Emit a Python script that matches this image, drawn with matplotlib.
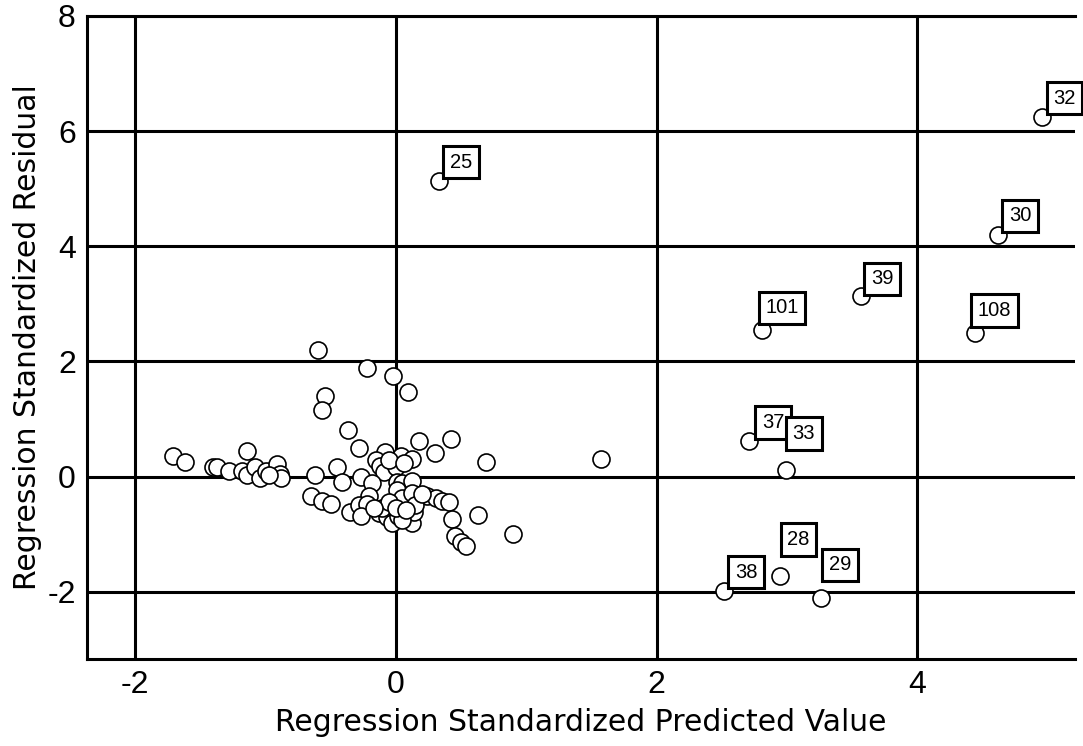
import matplotlib.pyplot as plt

plt.rcParams["axes.unicode_minus"] = False

# cluster of cases (predicted, residual)
pred = [-1.71, -1.62, -1.40, -1.37, -1.28, -1.18, -1.14, -1.14, -1.08, -1.04,
        -1.00, -0.91, -0.89, -0.88, -0.97,
        -0.60, -0.22, -0.02, 0.09, -0.54, -0.57, -0.37, -0.28, 0.18, 0.42,
        0.30, 0.69, -0.08, -0.15, 0.04, 0.12, -0.12, -0.09, 0.00, -0.45,
        -0.62, -0.41, -0.27, -0.18, 0.01, 0.05, 0.12, 0.01, 0.05, -0.21,
        0.12, 0.24, 0.31, 0.35, 0.41, -0.65, -0.57, -0.50, -0.35, -0.28,
        -0.22, -0.13, -0.07, -0.03, 0.02, 0.12, 0.14, 0.05, -0.27, -0.11,
        0.15, 0.43, 0.63, 0.45, 0.50, 0.54, 0.90, 1.57,
        -0.05, 0.06, -0.05, 0.00, 0.08, -0.17, 0.20]
resid = [0.35, 0.26, 0.16, 0.16, 0.09, 0.10, 0.45, 0.03, 0.16, -0.02,
         0.10, 0.21, 0.05, -0.03, 0.02,
         2.20, 1.89, 1.75, 1.47, 1.39, 1.16, 0.81, 0.50, 0.62, 0.66,
         0.40, 0.26, 0.42, 0.29, 0.36, 0.31, 0.19, 0.07, 0.16, 0.17,
         0.03, -0.09, 0.00, -0.12, -0.10, -0.12, -0.07, -0.24, -0.38, -0.33,
         -0.29, -0.33, -0.38, -0.42, -0.45, -0.33, -0.42, -0.47, -0.61, -0.50,
         -0.47, -0.64, -0.71, -0.81, -0.68, -0.80, -0.62, -0.76, -0.68, -0.54,
         -0.50, -0.73, -0.66, -1.04, -1.13, -1.20, -0.99, 0.31,
         0.28, 0.23, -0.45, -0.55, -0.58, -0.55, -0.30]

# labelled outliers
out_ids = ["25", "32", "30", "39", "101", "108", "37", "33", "28", "29", "38"]
out_pred = [0.33, 4.96, 4.62, 3.57, 2.81, 4.44, 2.71, 2.99, 2.95, 3.26, 2.52]
out_resid = [5.13, 6.24, 4.20, 3.14, 2.55, 2.50, 0.61, 0.12, -1.72, -2.11, -1.99]
# label offsets (pixels, right/up)
dx = [22, 22, 22, 21, 20, 20, 24, 18, 18, 19, 22]
dy = [19, 19, 19, 17, 22, 22, 19, 36, 36, 33, 19]

fig = plt.figure(figsize=(10.83, 7.46), dpi=100)
ax = fig.add_axes([0.0803, 0.1166, 0.9123, 0.862])

ax.scatter(pred + out_pred, resid + out_resid, s=150, facecolors="white",
           edgecolors="black", linewidths=1.2, zorder=3)

for i in range(len(out_ids)):
    ax.annotate(out_ids[i], (out_pred[i], out_resid[i]), xytext=(dx[i], dy[i]),
                textcoords="offset pixels", ha="center", va="center",
                fontsize=14.5, family="Liberation Sans", zorder=4,
                bbox=dict(boxstyle="square,pad=0.33", fc="white", ec="black", lw=2.2))

ax.set_xlim(-2.37, 5.21)
ax.set_ylim(-3.17, 8)
ax.set_xticks([-2, 0, 2, 4])
ax.set_yticks([-2, 0, 2, 4, 6, 8])
ax.grid(True, color="black", linewidth=2.2)
ax.set_axisbelow(True)
ax.tick_params(length=0, labelsize=23, pad=8)
for lab in ax.get_xticklabels() + ax.get_yticklabels():
    lab.set_family("Liberation Sans")
ax.spines["right"].set_visible(False)
for s in ["left", "bottom", "top"]:
    ax.spines[s].set_linewidth(2.2)

ax.set_xlabel("Regression Standardized Predicted Value", fontsize=21.5, family="DejaVu Sans", labelpad=6)
ax.set_ylabel("Regression Standardized Residual", fontsize=21.5, family="DejaVu Sans", labelpad=4)

fig.savefig("out.png", dpi=100)
